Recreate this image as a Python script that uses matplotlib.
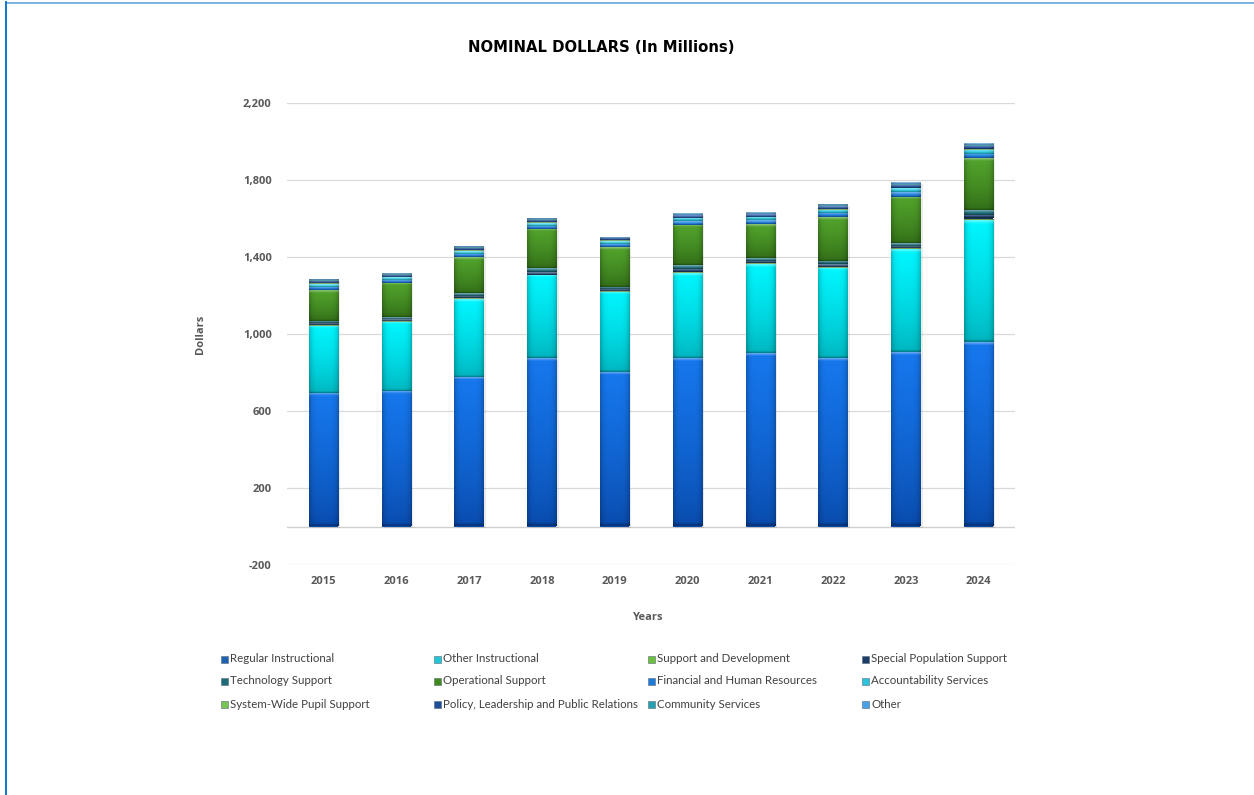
import numpy as np
import matplotlib
matplotlib.use("Agg")
import matplotlib.pyplot as plt
from matplotlib.patches import Rectangle
from matplotlib.lines import Line2D
from matplotlib.colors import to_rgb
from matplotlib.ticker import FuncFormatter

# ---- data (millions of nominal dollars) ----
years = ["2015", "2016", "2017", "2018", "2019", "2020", "2021", "2022", "2023", "2024"]
regular_instructional = [692, 705, 778, 874, 804, 877, 900, 874, 908, 960]
other_instructional = [350, 359, 404, 432, 416, 441, 462, 471, 532, 632]
support_and_development = [3, 3, 3, 3, 3, 5, 5, 5, 6, 8]
special_population_support = [11, 10, 13, 15, 11, 17, 14, 14, 12, 20]
technology_support = [12, 10, 14, 17, 12, 18, 15, 16, 13, 24]
operational_support = [159, 177, 187, 203, 205, 208, 175, 227, 242, 269]
financial_and_hr = [18, 16, 19, 18, 17, 19, 19, 21, 23, 24]
accountability_services = [15, 14, 15, 15, 15, 16, 16, 18, 20, 21]
system_wide_pupil_support = [3, 3, 3, 3, 3, 3, 3, 4, 4, 4]
policy_leadership_pr = [12, 11, 13, 12, 12, 13, 13, 14, 16, 17]
community_services = [3, 3, 3, 3, 3, 3, 3, 4, 4, 4]
other = [6, 5, 6, 6, 5, 7, 7, 7, 8, 8]

series_names = [
    "Regular Instructional", "Other Instructional", "Support and Development",
    "Special Population Support", "Technology Support", "Operational Support",
    "Financial and Human Resources", "Accountability Services",
    "System-Wide Pupil Support", "Policy, Leadership and Public Relations",
    "Community Services", "Other",
]
series_values = [
    regular_instructional, other_instructional, support_and_development,
    special_population_support, technology_support, operational_support,
    financial_and_hr, accountability_services, system_wide_pupil_support,
    policy_leadership_pr, community_services, other,
]
# (light top colour, dark bottom colour) for the bevelled segments
series_colors = [
    ("#1678ee", "#0949aa"),
    ("#00f6ff", "#00b2bc"),
    ("#95da5e", "#5aa02a"),
    ("#2c5582", "#15304e"),
    ("#2a8494", "#155462"),
    ("#52a42c", "#306a16"),
    ("#2c94f0", "#1462c0"),
    ("#46e4f4", "#18aec6"),
    ("#92d86c", "#5ea83a"),
    ("#2c64b6", "#163c7e"),
    ("#34bccc", "#1a7e90"),
    ("#5cb4f2", "#2e86d0"),
]
legend_colors = [
    "#1f62b0", "#22c8d6", "#6cc03c", "#1b3d66", "#1d6b78", "#3f8a1f",
    "#1f7ad8", "#2cc4dc", "#78c452", "#1d4e98", "#26a0b0", "#4aa0e4",
]

W, H = 1254, 795
fig = plt.figure(figsize=(W / 100, H / 100), dpi=100)
fig.patch.set_facecolor("white")

ax_left, ax_right, ax_top, ax_bottom = 287, 1015, 103, 565
ax = fig.add_axes([ax_left / W, 1 - ax_bottom / H,
                   (ax_right - ax_left) / W, (ax_bottom - ax_top) / H])

ymin, ymax = -200, 2200
px_per_unit = (ax_bottom - ax_top) / (ymax - ymin)
x = np.arange(len(years))
bar_w = 0.4


def shade(rect, light, dark):
    x0, y0 = rect.get_xy()
    w, h = rect.get_width(), rect.get_height()
    if h <= 0:
        return
    ny, nx = 64, 32
    t = np.linspace(0, 1, ny)[:, None]          # 0 = bottom, 1 = top
    u = np.linspace(0, 1, nx)[None, :]
    lt, dk = np.array(to_rgb(light)), np.array(to_rgb(dark))
    base = dk[None, None, :] + (lt - dk)[None, None, :] * (t ** 0.7)[..., None]
    edge = 1 - 0.22 * np.abs(2 * u - 1) ** 5
    img = base * edge[..., None]
    hpx = h * px_per_unit
    from_top = (1 - t) * hpx
    glow = np.clip(1 - from_top / 2.5, 0, 1) * 0.35
    img = img + (1 - img) * glow[..., None]
    from_bot = t * hpx
    dim = np.clip(1 - from_bot / 1.5, 0, 1) * 0.25
    img = img * (1 - dim[..., None])
    img = np.clip(img, 0, 1)
    im = ax.imshow(img, extent=(x0, x0 + w, y0, y0 + h), origin="lower",
                   aspect="auto", interpolation="bilinear", zorder=3)
    im.set_clip_path(rect)


bottom = np.zeros(len(years))
for vals, (light, dark) in zip(series_values, series_colors):
    vals = np.asarray(vals, dtype=float)
    bars = ax.bar(x, vals, bar_w, bottom=bottom, color=dark, edgecolor="none",
                  zorder=2)
    for r in bars:
        shade(r, light, dark)
    bottom += vals

# soft shadow under the stacks
for xi, tot in zip(x, bottom):
    ax.add_patch(Rectangle((xi - bar_w / 2 + 0.03, -8), bar_w, tot,
                           facecolor="#000000", alpha=0.08, edgecolor="none",
                           zorder=1))

ax.set_xlim(-0.5, len(years) - 0.5)
ax.set_ylim(ymin, ymax)
ax.set_yticks(np.arange(-200, 2201, 400))
ax.yaxis.set_major_formatter(FuncFormatter(lambda v, p: f"{v:,.0f}"))
ax.set_xticks(x)
ax.set_xticklabels(years)
ax.grid(axis="y", color="#d9d9d9", linewidth=0.9, zorder=0)
ax.axhline(0, color="#d0d0d0", linewidth=1.0, zorder=0)
ax.set_axisbelow(True)
for s in ax.spines.values():
    s.set_visible(False)
ax.tick_params(length=0, colors="#595959", labelsize=8)
ax.tick_params(axis="y", pad=11)
ax.tick_params(axis="x", pad=8)
for lab in ax.get_yticklabels() + ax.get_xticklabels():
    lab.set_fontfamily("Open Sans")
    lab.set_fontweight("bold")
    lab.set_color("#595959")

fig.text(601 / W, 1 - 48 / H, "NOMINAL DOLLARS (In Millions)", ha="center",
         va="center", fontsize=10.7, fontweight="bold", color="#000000",
         family="DejaVu Sans")
fig.text(201 / W, 1 - 334 / H, "Dollars", rotation=90, ha="center",
         va="center", fontsize=8, fontweight="bold", color="#595959",
         family="Open Sans")
fig.text(647 / W, 1 - 617 / H, "Years", ha="center", va="center",
         fontsize=8, fontweight="bold", color="#595959", family="Open Sans")

# legend laid out in four even columns, filled row by row
col_x = [221, 434, 648, 862]
row_y = [659, 681, 704]
sq = 7
for i, (name, col) in enumerate(zip(series_names, legend_colors)):
    cx = col_x[i % 4]
    cy = row_y[i // 4]
    fig.add_artist(Rectangle((cx / W, 1 - (cy + sq / 2) / H), sq / W, sq / H,
                             facecolor=col, edgecolor="#5a6a7a",
                             linewidth=0.4, transform=fig.transFigure))
    fig.text((cx + sq + 2) / W, 1 - cy / H, name, ha="left", va="center",
             fontsize=8.3, color="#404040", family="Lato")

# frame lines along the top and left edges
fig.add_artist(Line2D([6 / W, 1253 / W], [1 - 2.5 / H, 1 - 2.5 / H],
                      color="#7ab3e0", linewidth=1.4,
                      transform=fig.transFigure))
fig.add_artist(Line2D([6 / W, 6 / W], [0, 1 - 2 / H], color="#0b78d0",
                      linewidth=1.4, transform=fig.transFigure))

fig.savefig("out.png", dpi=100, facecolor="white")
